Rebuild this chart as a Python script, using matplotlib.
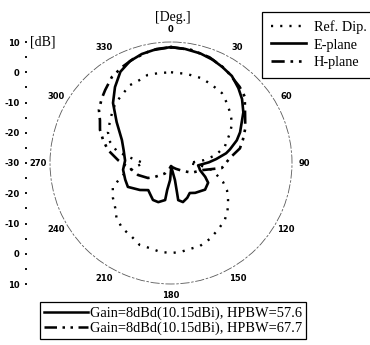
import numpy as np
import matplotlib
matplotlib.use('Agg')
import matplotlib.pyplot as plt
from matplotlib.lines import Line2D
from matplotlib.ticker import FixedLocator, MultipleLocator

# ---------------- data (angles in degrees, levels in dB) ----------------
ref_ang = [0, 10, 20, 28, 36, 43, 50, 57, 63, 73, 80, 85, 90, 95, 100, 110, 116, 123,
           130, 137, 145, 153, 161, 168, 174, 180, 187, 194, 201, 208, 217, 225, 231,
           239, 247, 255, 262, 270, 275, 282, 289, 296, 303, 310, 317, 324, 332, 339,
           345, 352, 360]
ref_db = [0.0, -0.1, -0.2, -0.9, -1.4, -2.9, -4.4, -5.9, -8.1, -11.4, -15.0, -19.0,
          -24.0, -20.0, -16.0, -11.7, -9.4, -7.5, -5.6, -4.0, -3.0, -1.8, -0.9, -0.9,
          -0.4, -0.25, -0.4, -1.0, -1.0, -2.4, -3.1, -4.5, -6.3, -7.6, -9.1, -13.0,
          -17.0, -21.0, -18.1, -11.8, -8.7, -6.8, -5.8, -4.5, -3.0, -2.3, -0.9, -0.7,
          0.1, 0.0, 0.0]

e_ang = [0, 7, 15, 22, 28, 35, 42, 48, 55, 60, 66, 71, 77, 80, 85, 89, 95, 100, 104,
         112, 118, 128, 141, 148, 155, 163, 169, 168.5, 167, 176, 183, 188, 189, 198,
         206, 213, 220, 229, 241, 250, 262, 273, 285, 295, 307, 316, 323.6, 331, 338,
         345, 353, 360]
e_db = [8.3, 8.0, 7.5, 6.8, 6.0, 5.1, 3.3, 1.6, -0.8, -3.0, -5.0, -7.0, -10.0, -11.5,
        -15.0, -17.5, -21.0, -20.5, -20.1, -17.8, -16.1, -15.7, -17.3, -18.3, -17.3,
        -16.5, -17.5, -20.0, -24.2, -28.7, -24.4, -21.0, -17.6, -16.4, -16.4, -17.5,
        -18.3, -16.4, -13.7, -13.9, -14.0, -14.8, -13.8, -12.1, -7.5, -2.4, 1.2, 4.5,
        6.3, 7.3, 8.0, 8.3]

h_ang = [0, 10, 20, 30, 42, 48, 57, 65, 72, 78, 85, 95.6, 103, 115, 125, 140, 160,
         180, 195, 210, 222, 229, 237, 250, 263, 268, 273, 281.7, 288.7, 295, 301,
         306.4, 313, 318, 325.5, 333, 340, 350, 360]
h_db = [8.3, 8.0, 7.2, 5.9, 3.9, 2.8, -0.8, -2.9, -5.0, -6.7, -10.4, -13.1, -19.5,
        -22.4, -25.5, -27.5, -28.5, -29.0, -28.0, -26.0, -24.6, -23.0, -20.9, -18.4,
        -16.3, -14.5, -12.5, -8.7, -6.3, -4.1, -2.6, -0.4, 1.3, 2.5, 4.5, 5.6, 6.6,
        7.8, 8.3]

angle_labels = [0, 30, 60, 90, 120, 150, 180, 210, 240, 270, 300, 330]
db_tick_pos = [-40, -30, -20, -10, 0, 10, 20, 30, 40]
db_tick_labels = ['10', '0', '-10', '-20', '-30', '-20', '-10', '0', '10']
legend1_labels = ['Ref. Dip.', 'E-plane', 'H-plane']
legend2_labels = ['Gain=8dBd(10.15dBi), HPBW=57.6',
                  'Gain=8dBd(10.15dBi), HPBW=67.7']

# ---------------- figure ----------------
W, H = 370, 345
fig = plt.figure(figsize=(W / 100, H / 100), dpi=100)
fig.patch.set_facecolor('white')

cx, cy, R = 171, 163, 121
ax = fig.add_axes([(cx - R) / W, (H - cy - R) / H, 2 * R / W, 2 * R / H],
                  projection='polar')
ax.set_theta_zero_location('N')
ax.set_theta_direction(-1)
ax.set_ylim(-30, 10)
ax.set_yticks([])
ax.set_xticks(np.radians(angle_labels))
ax.set_xticklabels([])
ax.grid(False)
ax.tick_params(axis='x', length=2, width=0.6, colors='0.35')
sp = ax.spines['polar']
sp.set_linestyle((0, (10, 3, 2, 3)))
sp.set_linewidth(0.6)
sp.set_color('0.35')

dash_dot = (0, (5.0, 2.2, 1.0, 2.2, 1.0, 2.2))
l_ref, = ax.plot(np.radians(ref_ang), ref_db, color='black', lw=1.7,
                 linestyle=(0, (0.9, 3.0)))
l_e, = ax.plot(np.radians(e_ang), e_db, color='black', lw=1.9, linestyle='-')
l_h, = ax.plot(np.radians(h_ang), h_db, color='black', lw=1.9, linestyle=dash_dot)

label_r = 10 + 40 * (133 - R) / R
for a in angle_labels:
    ax.text(np.radians(a), label_r, str(a), ha='center', va='center',
            fontsize=6, fontweight='bold', family='DejaVu Sans', clip_on=False)

# ---------------- dB scale on the left ----------------
ax2 = fig.add_axes([26 / W, (H - cy - R) / H, 0.0001, 2 * R / H])
ax2.set_ylim(-40, 40)
ax2.set_xticks([])
for s in ax2.spines.values():
    s.set_visible(False)
ax2.yaxis.set_major_locator(FixedLocator(db_tick_pos))
ax2.set_yticklabels(db_tick_labels)
ax2.yaxis.set_minor_locator(MultipleLocator(5))
ax2.tick_params(axis='y', which='both', length=1.5, width=1.3, direction='inout',
                pad=4, labelsize=6)
for t in ax2.get_yticklabels():
    t.set_fontweight('bold')

serif = 'Liberation Serif'
fig.text(30 / W, 1 - 42 / H, '[dB]', ha='left', va='center', family=serif,
         fontsize=10)
fig.text(173 / W, 1 - 17 / H, '[Deg.]', ha='center', va='center', family=serif,
         fontsize=10)

# ---------------- legends ----------------
leg1 = fig.legend(handles=[l_ref, l_e, l_h], labels=legend1_labels,
                  loc='upper left', bbox_to_anchor=(262 / W, 1 - 12 / H),
                  frameon=True, fancybox=False, edgecolor='black', framealpha=1,
                  prop={'family': serif, 'size': 10.3}, handlelength=2.5,
                  handleheight=0.9, handletextpad=0.5, borderpad=0.6,
                  labelspacing=0.25, borderaxespad=0)
leg1.get_frame().set_linewidth(0.9)

h2a = Line2D([], [], color='black', lw=1.8, linestyle='-')
h2b = Line2D([], [], color='black', lw=1.8, linestyle=dash_dot)
leg2 = fig.legend(handles=[h2a, h2b], labels=legend2_labels,
                  loc='upper left', bbox_to_anchor=(40 / W, 1 - 302 / H),
                  frameon=True, fancybox=False, edgecolor='black', framealpha=1,
                  prop={'family': serif, 'size': 10.4}, handlelength=3.0,
                  handletextpad=0.15, borderpad=0.3, labelspacing=0.1,
                  borderaxespad=0)
leg2.get_frame().set_linewidth(0.9)

fig.savefig('out.png', dpi=100, facecolor='white')
